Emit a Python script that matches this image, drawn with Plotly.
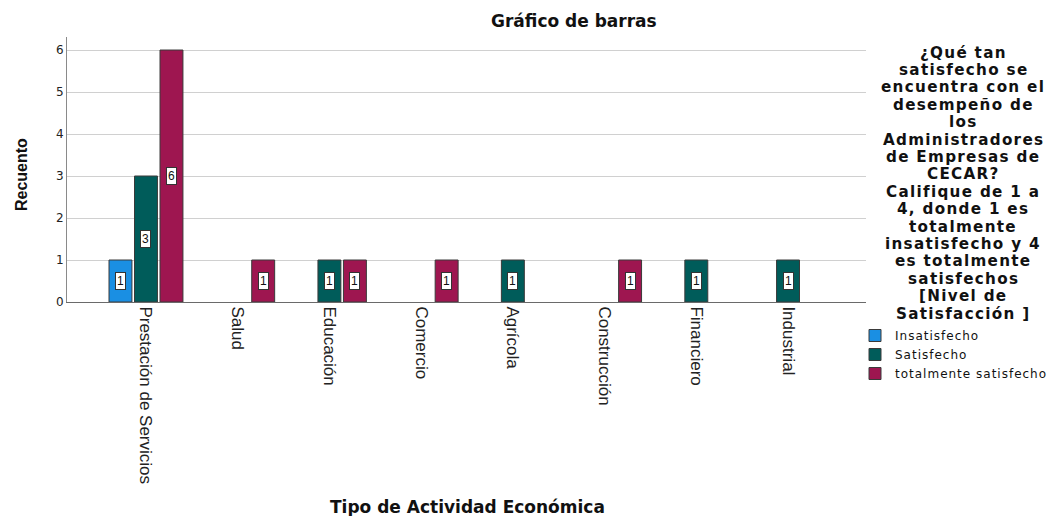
import plotly.graph_objects as go

categories = ["Prestación de Servicios", "Salud", "Educación", "Comercio",
              "Agrícola", "Construcción", "Financiero", "Industrial"]
series_names = ["Insatisfecho", "Satisfecho", "totalmente satisfecho"]
insatisfecho = [1, 0, 0, 0, 0, 0, 0, 0]
satisfecho = [3, 0, 1, 0, 1, 0, 1, 1]
totalmente = [6, 1, 1, 1, 0, 1, 0, 0]
y_ticks = [0, 1, 2, 3, 4, 5, 6]

title_text = "Gráfico de barras"
x_title = "Tipo de Actividad Económica"
y_title = "Recuento"
legend_title_lines = ["¿Qué tan", "satisfecho se", "encuentra con el", "desempeño de", "los",
                      "Administradores", "de Empresas de", "CECAR?", "Califique de 1 a",
                      "4, donde 1 es", "totalmente", "insatisfecho y 4", "es totalmente",
                      "satisfechos", "[Nivel de", "Satisfacción ]"]

colors = ["#1A8FE3", "#005C5A", "#9E1650"]
series_values = [insatisfecho, satisfecho, totalmente]

W, H = 1059, 516
ML, MR, MT, MB = 67, W - 866, 37, H - 302
PW, PH = W - ML - MR, H - MT - MB

bargap = 0.166
slot = (1 - bargap) / len(series_values)
idx = list(range(len(categories)))

def spaced(s, ls):
    return '<span style="letter-spacing:%spx">%s</span>' % (ls, s)

fig = go.Figure()
for name, vals, col in zip(series_names, series_values, colors):
    fig.add_trace(go.Bar(
        x=idx, y=[v if v > 0 else None for v in vals], name=spaced(name, 1.0),
        marker=dict(color=col, line=dict(color="#3a3a3a", width=1)),
        hovertemplate=name + ": %{y}<extra></extra>",
    ))

annotations = []
for k, vals in enumerate(series_values):
    for i, v in enumerate(vals):
        if v > 0:
            annotations.append(dict(
                x=i + (k - 1) * slot, y=v / 2, xref="x", yref="y",
                text=str(v), showarrow=False,
                font=dict(family="Liberation Sans, Arial", size=12, color="#111"),
                bgcolor="white", bordercolor="#333", borderwidth=1, borderpad=1,
            ))

def px_x(p):
    return (p - ML) / PW

def px_y(p):
    return (H - MB - p) / PH

annotations.append(dict(text="<b>" + title_text + "</b>", x=px_x(574), y=px_y(21),
                        xref="paper", yref="paper", showarrow=False,
                        font=dict(family="DejaVu Sans", size=17, color="#111"),
                        xanchor="center", yanchor="middle"))
annotations.append(dict(text="<b>" + x_title + "</b>", x=px_x(468), y=px_y(507),
                        xref="paper", yref="paper", showarrow=False,
                        font=dict(family="DejaVu Sans", size=17, color="#111"),
                        xanchor="center", yanchor="middle"))
annotations.append(dict(text="<b>" + y_title + "</b>", x=px_x(21), y=px_y(175),
                        xref="paper", yref="paper", showarrow=False, textangle=-90,
                        font=dict(family="Liberation Sans", size=16, color="#111"),
                        xanchor="center", yanchor="middle"))
for j, line in enumerate(legend_title_lines):
    annotations.append(dict(text="<b>" + spaced(line, 1.3) + "</b>", x=px_x(963),
                            y=px_y(52.5 + 17.4 * j),
                            xref="paper", yref="paper", showarrow=False,
                            font=dict(family="DejaVu Sans", size=15.2, color="#111"),
                            xanchor="center", yanchor="middle"))

fig.update_layout(
    width=W, height=H, autosize=False,
    margin=dict(l=ML, r=MR, t=MT, b=MB, pad=0, autoexpand=False),
    paper_bgcolor="white", plot_bgcolor="white",
    barmode="group", bargap=bargap, bargroupgap=0.1,
    showlegend=True,
    legend=dict(x=px_x(855), y=px_y(321), xanchor="left", yanchor="top",
                font=dict(family="DejaVu Sans", size=12, color="#111"),
                tracegroupgap=0, itemwidth=30, bgcolor="rgba(0,0,0,0)"),
    xaxis=dict(range=[-0.861, 7.85], tickmode="array", tickvals=idx, ticktext=categories,
               tickangle=90, showgrid=False, zeroline=False, showline=True,
               linecolor="#6a6a6a", linewidth=1, ticks="",
               tickfont=dict(family="Liberation Sans, Arial", size=17, color="#222")),
    yaxis=dict(range=[0, 6.31], tickmode="array", tickvals=y_ticks,
               showgrid=True, gridcolor="#d0d0d0", gridwidth=1, zeroline=False,
               showline=True, linecolor="#8a8a8a", linewidth=1, ticks="",
               tickfont=dict(family="DejaVu Sans", size=12, color="#222")),
    annotations=annotations,
)

fig.write_html("out.html", config={"displayModeBar": False},
               post_script="document.body.style.margin='0';document.body.style.overflow='hidden';")
